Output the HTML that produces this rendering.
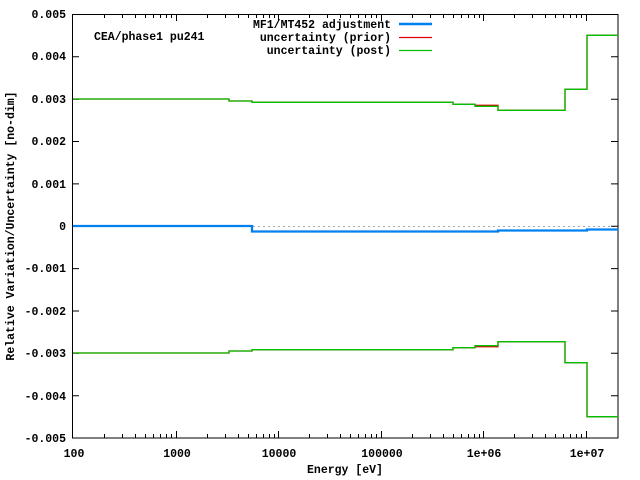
<!DOCTYPE html><html><head><style>body{margin:0;background:#fff}svg{display:block}text{font-family:"Liberation Mono",monospace;font-size:11.5px;fill:#000}</style></head><body>
<svg width="640" height="480" xmlns="http://www.w3.org/2000/svg">
<line x1="73" y1="226.5" x2="618" y2="226.5" stroke="#aaa" stroke-dasharray="2,3"/>
<g stroke="#000" stroke-width="1" fill="none">
<path d="M72,14.5h7M72,56.8h7M72,99.2h7M72,141.5h7M72,183.9h7M72,226.2h7M72,268.6h7M72,311h7M72,353.3h7M72,395.7h7M72,438h7M611,14.5h7M611,56.8h7M611,99.2h7M611,141.5h7M611,183.9h7M611,226.2h7M611,268.6h7M611,311h7M611,353.3h7M611,395.7h7M611,438h7"/>
<path d="M176.5,438v-7M278.5,438v-7M381.5,438v-7M483.5,438v-7M586.5,438v-7M176.5,14v7M278.5,14v7M381.5,14v7M483.5,14v7M586.5,14v7"/>
<path d="M104.5,438v-4M122.5,438v-4M135.5,438v-4M145.5,438v-4M153.5,438v-4M160.5,438v-4M166.5,438v-4M171.5,438v-4M207.5,438v-4M225.5,438v-4M238.5,438v-4M248.5,438v-4M256.5,438v-4M263.5,438v-4M269.5,438v-4M274.5,438v-4M309.5,438v-4M327.5,438v-4M340.5,438v-4M350.5,438v-4M358.5,438v-4M365.5,438v-4M371.5,438v-4M376.5,438v-4M412.5,438v-4M430.5,438v-4M443.5,438v-4M453.5,438v-4M461.5,438v-4M468.5,438v-4M474.5,438v-4M479.5,438v-4M514.5,438v-4M532.5,438v-4M545.5,438v-4M555.5,438v-4M563.5,438v-4M570.5,438v-4M576.5,438v-4M581.5,438v-4"/>
<path d="M104.5,14v4M122.5,14v4M135.5,14v4M145.5,14v4M153.5,14v4M160.5,14v4M166.5,14v4M171.5,14v4M207.5,14v4M225.5,14v4M238.5,14v4M248.5,14v4M256.5,14v4M263.5,14v4M269.5,14v4M274.5,14v4M309.5,14v4M327.5,14v4M340.5,14v4M350.5,14v4M358.5,14v4M365.5,14v4M371.5,14v4M376.5,14v4M412.5,14v4M430.5,14v4M443.5,14v4M453.5,14v4M461.5,14v4M468.5,14v4M474.5,14v4M479.5,14v4M514.5,14v4M532.5,14v4M545.5,14v4M555.5,14v4M563.5,14v4M570.5,14v4M576.5,14v4M581.5,14v4"/>
</g>
<rect x="72.5" y="14.5" width="545.5" height="423.5" fill="none" stroke="#000"/>
<g font-weight="bold" text-anchor="end">
<text x="66" y="18">0.005</text><text x="66" y="60">0.004</text><text x="66" y="103">0.003</text><text x="66" y="145">0.002</text><text x="66" y="188">0.001</text><text x="66" y="230">0</text><text x="66" y="272">-0.001</text><text x="66" y="315">-0.002</text><text x="66" y="357">-0.003</text><text x="66" y="400">-0.004</text><text x="66" y="442">-0.005</text>
</g>
<g font-weight="bold" text-anchor="middle">
<text x="74" y="457">100</text><text x="177" y="457">1000</text><text x="279" y="457">10000</text><text x="382" y="457">100000</text><text x="484" y="457">1e+06</text><text x="587" y="457">1e+07</text>
<text x="345" y="473">Energy [eV]</text>
<text transform="translate(14,226) rotate(-90)">Relative Variation/Uncertainty [no-dim]</text>
</g>
<text x="94" y="40" font-weight="bold">CEA/phase1 pu241</text>
<g font-weight="bold" text-anchor="end">
<text x="391" y="28">MF1/MT452 adjustment</text><text x="391" y="41">uncertainty (prior)</text><text x="391" y="54">uncertainty (post)</text>
</g>
<line x1="399" y1="24" x2="432" y2="24" stroke="#0080f0" stroke-width="2.5"/>
<line x1="399" y1="37.5" x2="432" y2="37.5" stroke="#e00000" stroke-width="1.2"/>
<line x1="399" y1="50.5" x2="432" y2="50.5" stroke="#00c000" stroke-width="1.2"/>
<g fill="none" stroke-width="1.3">
<path stroke="#e00000" d="M73,99H229V101H252V102.3H453V104.3H475V105.3H498V110.3H565V89.3H587V35.3H618"/>
<path stroke="#e00000" d="M73,353H229V351H252V349.7H453V347.7H475V346.7H498V341.7H565V362.7H587V416.7H618"/>
<path stroke="#00c000" d="M73,99H229V101H252V102.3H453V104.3H475V106.3H498V110.3H565V89.3H587V35.3H618"/>
<path stroke="#00c000" d="M73,353H229V351H252V349.7H453V347.7H475V345.7H498V341.7H565V362.7H587V416.7H618"/>
<path stroke="#0080f0" stroke-width="2.3" d="M73,226H252V231.5H498V230.5H587V229.5H618"/>
</g>
</svg></body></html>
